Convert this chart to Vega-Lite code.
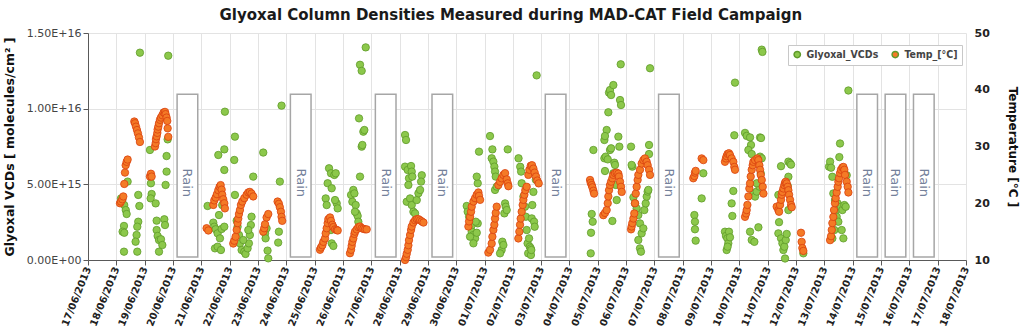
{
"$schema":"https://vega.github.io/schema/vega-lite/v6.json",
"autosize":"none",
"width":878,"height":227,
"padding":{"left":88,"top":33,"right":58,"bottom":69},
"background":"white",
"title":{"text":"Glyoxal Column Densities Measured during MAD-CAT Field Campaign","fontSize":15,"font":"DejaVu Sans","fontWeight":"bold","color":"#1a1a1a","offset":4,"frame":"bounds"},
"config":{"font":"DejaVu Sans","view":{"stroke":null}},
"datasets":{
"rain":[
{"s":"2013-06-20T03:30","e":"2013-06-20T21:00","m":"2013-06-20T12:15","label":"Rain"},
{"s":"2013-06-24T03:30","e":"2013-06-24T21:00","m":"2013-06-24T12:15","label":"Rain"},
{"s":"2013-06-27T03:30","e":"2013-06-27T21:00","m":"2013-06-27T12:15","label":"Rain"},
{"s":"2013-06-29T03:30","e":"2013-06-29T21:00","m":"2013-06-29T12:15","label":"Rain"},
{"s":"2013-07-03T03:30","e":"2013-07-03T21:00","m":"2013-07-03T12:15","label":"Rain"},
{"s":"2013-07-07T03:30","e":"2013-07-07T21:00","m":"2013-07-07T12:15","label":"Rain"},
{"s":"2013-07-14T03:30","e":"2013-07-14T21:00","m":"2013-07-14T12:15","label":"Rain"},
{"s":"2013-07-15T03:30","e":"2013-07-15T21:00","m":"2013-07-15T12:15","label":"Rain"},
{"s":"2013-07-16T03:30","e":"2013-07-16T21:00","m":"2013-07-16T12:15","label":"Rain"}
],
"vcd":[
{"t":"2013-06-18T04:00","v":4.07e15},{"t":"2013-06-18T05:00","v":3.96e15},{"t":"2013-06-18T06:40","v":3.63e15},{"t":"2013-06-18T08:00","v":3.30e15},{"t":"2013-06-18T08:45","v":3.04e15},{"t":"2013-06-18T06:30","v":2.25e15},{"t":"2013-06-18T05:20","v":1.87e15},{"t":"2013-06-18T06:45","v":1.80e15},{"t":"2013-06-18T06:30","v":0.55e15},{"t":"2013-06-18T09:35","v":5.18e15},{"t":"2013-06-18T18:35","v":4.30e15},{"t":"2013-06-18T19:30","v":3.57e15},{"t":"2013-06-18T18:35","v":2.53e15},{"t":"2013-06-18T17:45","v":2.20e15},{"t":"2013-06-18T17:10","v":1.65e15},{"t":"2013-06-18T16:20","v":1.21e15},{"t":"2013-06-18T17:45","v":0.55e15},{"t":"2013-06-18T20:00","v":13.7e15},
{"t":"2013-06-19T04:30","v":7.27e15},{"t":"2013-06-19T05:20","v":5.07e15},{"t":"2013-06-19T05:55","v":4.36e15},{"t":"2013-06-19T05:05","v":4.07e15},{"t":"2013-06-19T09:20","v":3.74e15},{"t":"2013-06-19T10:10","v":2.60e15},{"t":"2013-06-19T10:10","v":1.98e15},{"t":"2013-06-19T11:00","v":1.59e15},{"t":"2013-06-19T12:10","v":1.32e15},{"t":"2013-06-19T13:50","v":1.37e15},{"t":"2013-06-19T15:00","v":0.99e15},{"t":"2013-06-19T12:10","v":0.55e15},{"t":"2013-06-19T16:40","v":2.69e15},{"t":"2013-06-19T17:15","v":2.31e15},{"t":"2013-06-19T17:45","v":4.96e15},{"t":"2013-06-19T18:35","v":6.87e15},{"t":"2013-06-19T18:35","v":5.84e15},{"t":"2013-06-19T19:30","v":7.97e15},{"t":"2013-06-19T20:00","v":13.5e15},
{"t":"2013-06-21T05:20","v":3.57e15},{"t":"2013-06-21T10:10","v":2.47e15},{"t":"2013-06-21T11:00","v":2.20e15},{"t":"2013-06-21T12:10","v":2.03e15},{"t":"2013-06-21T13:50","v":1.76e15},{"t":"2013-06-21T15:50","v":1.43e15},{"t":"2013-06-21T17:15","v":2.05e15},{"t":"2013-06-21T11:35","v":0.77e15},{"t":"2013-06-21T13:50","v":0.88e15},{"t":"2013-06-21T16:40","v":0.66e15},{"t":"2013-06-21T15:00","v":2.97e15},{"t":"2013-06-21T17:45","v":3.63e15},{"t":"2013-06-21T19:30","v":2.20e15},{"t":"2013-06-21T14:25","v":6.94e15},{"t":"2013-06-21T19:30","v":7.31e15},{"t":"2013-06-21T19:30","v":5.95e15},{"t":"2013-06-21T20:00","v":9.80e15},
{"t":"2013-06-22T04:30","v":8.15e15},{"t":"2013-06-22T03:55","v":6.61e15},{"t":"2013-06-22T04:30","v":4.30e15},{"t":"2013-06-22T06:00","v":2.60e15},{"t":"2013-06-22T06:45","v":2.20e15},{"t":"2013-06-22T07:55","v":1.65e15},{"t":"2013-06-22T08:45","v":1.10e15},{"t":"2013-06-22T10:10","v":0.66e15},{"t":"2013-06-22T12:25","v":0.55e15},{"t":"2013-06-22T13:30","v":0.40e15},{"t":"2013-06-22T15:15","v":0.77e15},{"t":"2013-06-22T16:20","v":1.10e15},{"t":"2013-06-22T17:10","v":1.65e15},{"t":"2013-06-22T18:00","v":2.31e15},{"t":"2013-06-22T18:35","v":2.86e15},{"t":"2013-06-22T20:00","v":5.51e15},{"t":"2013-06-22T11:35","v":1.32e15},{"t":"2013-06-22T15:50","v":1.98e15},
{"t":"2013-06-23T04:30","v":7.10e15},{"t":"2013-06-23T06:00","v":1.76e15},{"t":"2013-06-23T06:30","v":1.43e15},{"t":"2013-06-23T07:20","v":2.09e15},{"t":"2013-06-23T08:10","v":0.62e15},{"t":"2013-06-23T08:45","v":0.11e15},{"t":"2013-06-23T18:35","v":5.18e15},{"t":"2013-06-23T17:45","v":1.87e15},{"t":"2013-06-23T17:10","v":1.15e15},{"t":"2013-06-23T20:00","v":10.2e15},
{"t":"2013-06-25T09:25","v":4.07e15},{"t":"2013-06-25T10:15","v":3.63e15},{"t":"2013-06-25T11:05","v":5.07e15},{"t":"2013-06-25T12:15","v":6.06e15},{"t":"2013-06-25T13:55","v":5.73e15},{"t":"2013-06-25T14:30","v":4.74e15},{"t":"2013-06-25T16:45","v":5.62e15},{"t":"2013-06-25T17:55","v":5.73e15},{"t":"2013-06-25T18:45","v":3.74e15},{"t":"2013-06-25T19:35","v":3.41e15},{"t":"2013-06-25T17:20","v":3.96e15},{"t":"2013-06-25T13:55","v":1.98e15},{"t":"2013-06-25T14:30","v":1.10e15},{"t":"2013-06-25T15:55","v":0.93e15},
{"t":"2013-06-26T06:55","v":4.30e15},{"t":"2013-06-26T08:00","v":3.85e15},{"t":"2013-06-26T08:50","v":4.63e15},{"t":"2013-06-26T09:45","v":4.40e15},{"t":"2013-06-26T10:50","v":3.63e15},{"t":"2013-06-26T11:40","v":3.08e15},{"t":"2013-06-26T12:30","v":2.91e15},{"t":"2013-06-26T13:05","v":2.53e15},{"t":"2013-06-26T14:30","v":5.51e15},{"t":"2013-06-26T15:55","v":7.49e15},{"t":"2013-06-26T16:30","v":7.60e15},{"t":"2013-06-26T17:20","v":8.48e15},{"t":"2013-06-26T18:10","v":8.59e15},{"t":"2013-06-26T13:40","v":9.36e15},{"t":"2013-06-26T14:30","v":12.9e15},{"t":"2013-06-26T15:55","v":12.5e15},{"t":"2013-06-26T19:20","v":14.05e15},{"t":"2013-06-26T10:15","v":3.19e15},
{"t":"2013-06-28T04:40","v":8.26e15},{"t":"2013-06-28T05:30","v":7.93e15},{"t":"2013-06-28T04:40","v":6.17e15},{"t":"2013-06-28T06:55","v":5.95e15},{"t":"2013-06-28T08:00","v":5.40e15},{"t":"2013-06-28T09:45","v":6.21e15},{"t":"2013-06-28T10:20","v":5.84e15},{"t":"2013-06-28T10:50","v":5.51e15},{"t":"2013-06-28T07:30","v":4.96e15},{"t":"2013-06-28T06:05","v":3.85e15},{"t":"2013-06-28T08:55","v":4.07e15},{"t":"2013-06-28T10:20","v":3.63e15},{"t":"2013-06-28T11:45","v":3.19e15},{"t":"2013-06-28T14:35","v":3.96e15},{"t":"2013-06-28T16:00","v":4.41e15},{"t":"2013-06-28T17:25","v":4.63e15},{"t":"2013-06-28T18:50","v":5.60e15},{"t":"2013-06-28T18:15","v":5.18e15},{"t":"2013-06-28T13:10","v":3.08e15},
{"t":"2013-06-30T08:55","v":3.57e15},{"t":"2013-06-30T09:45","v":3.19e15},{"t":"2013-06-30T10:55","v":2.86e15},{"t":"2013-06-30T11:45","v":2.53e15},{"t":"2013-06-30T12:35","v":2.20e15},{"t":"2013-06-30T13:10","v":1.87e15},{"t":"2013-06-30T14:35","v":1.65e15},{"t":"2013-06-30T16:00","v":1.43e15},{"t":"2013-06-30T17:25","v":1.80e15},{"t":"2013-06-30T18:15","v":2.42e15},{"t":"2013-06-30T16:35","v":2.53e15},{"t":"2013-06-30T18:15","v":5.07e15},{"t":"2013-06-30T19:20","v":7.16e15},{"t":"2013-06-30T17:25","v":5.51e15},{"t":"2013-06-30T14:35","v":1.10e15},{"t":"2013-06-30T11:45","v":1.54e15},
{"t":"2013-07-01T04:40","v":8.19e15},{"t":"2013-07-01T06:40","v":7.31e15},{"t":"2013-07-01T06:05","v":6.72e15},{"t":"2013-07-01T07:30","v":6.50e15},{"t":"2013-07-01T08:20","v":6.17e15},{"t":"2013-07-01T08:55","v":5.84e15},{"t":"2013-07-01T09:30","v":5.51e15},{"t":"2013-07-01T08:55","v":4.63e15},{"t":"2013-07-01T10:20","v":4.85e15},{"t":"2013-07-01T17:25","v":3.74e15},{"t":"2013-07-01T18:00","v":3.52e15},{"t":"2013-07-01T16:50","v":3.08e15},{"t":"2013-07-01T18:50","v":3.30e15},{"t":"2013-07-01T15:05","v":1.21e15},{"t":"2013-07-01T14:30","v":0.66e15},{"t":"2013-07-01T13:10","v":0.44e15},{"t":"2013-07-01T16:00","v":0.99e15},{"t":"2013-07-01T19:40","v":7.31e15},
{"t":"2013-07-02T04:50","v":6.72e15},{"t":"2013-07-02T06:15","v":6.16e15},{"t":"2013-07-02T07:00","v":5.84e15},{"t":"2013-07-02T07:30","v":5.07e15},{"t":"2013-07-02T09:00","v":4.20e15},{"t":"2013-07-02T10:20","v":3.52e15},{"t":"2013-07-02T11:00","v":2.86e15},{"t":"2013-07-02T11:45","v":1.98e15},{"t":"2013-07-02T12:30","v":1.10e15},{"t":"2013-07-02T13:00","v":0.44e15},{"t":"2013-07-02T13:45","v":1.43e15},{"t":"2013-07-02T14:20","v":0.88e15},{"t":"2013-07-02T15:10","v":0.77e15},{"t":"2013-07-02T15:20","v":0.33e15},{"t":"2013-07-02T15:40","v":0.66e15},{"t":"2013-07-02T16:00","v":2.75e15},{"t":"2013-07-02T16:30","v":3.63e15},{"t":"2013-07-02T17:25","v":4.50e15},{"t":"2013-07-02T18:00","v":2.53e15},{"t":"2013-07-02T18:30","v":2.20e15},{"t":"2013-07-02T19:30","v":5.30e15},{"t":"2013-07-02T20:10","v":12.2e15},
{"t":"2013-07-04T18:50","v":3.04e15},{"t":"2013-07-04T19:40","v":2.53e15},{"t":"2013-07-04T18:15","v":1.80e15},{"t":"2013-07-04T18:00","v":0.44e15},{"t":"2013-07-04T20:15","v":7.27e15},
{"t":"2013-07-05T05:35","v":6.72e15},{"t":"2013-07-05T06:40","v":6.83e15},{"t":"2013-07-05T08:25","v":6.65e15},{"t":"2013-07-05T06:05","v":5.88e15},{"t":"2013-07-05T07:30","v":8.59e15},{"t":"2013-07-05T05:35","v":7.93e15},{"t":"2013-07-05T06:05","v":8.19e15},{"t":"2013-07-05T08:55","v":9.76e15},{"t":"2013-07-05T09:30","v":11.06e15},{"t":"2013-07-05T10:20","v":11.23e15},{"t":"2013-07-05T11:15","v":10.9e15},{"t":"2013-07-05T13:10","v":11.56e15},{"t":"2013-07-05T14:00","v":6.43e15},{"t":"2013-07-05T14:35","v":6.28e15},{"t":"2013-07-05T13:10","v":5.73e15},{"t":"2013-07-05T15:10","v":4.96e15},{"t":"2013-07-05T16:00","v":3.96e15},{"t":"2013-07-05T12:20","v":2.58e15},{"t":"2013-07-05T17:25","v":8.15e15},{"t":"2013-07-05T18:50","v":10.57e15},{"t":"2013-07-05T19:40","v":10.24e15},{"t":"2013-07-05T18:15","v":7.49e15},{"t":"2013-07-05T19:25","v":12.93e15},{"t":"2013-07-05T10:20","v":7.27e15},{"t":"2013-07-05T11:15","v":7.38e15},
{"t":"2013-07-06T04:10","v":7.49e15},{"t":"2013-07-06T05:15","v":6.17e15},{"t":"2013-07-06T06:10","v":4.14e15},{"t":"2013-07-06T07:30","v":3.74e15},{"t":"2013-07-06T08:55","v":3.41e15},{"t":"2013-07-06T10:20","v":2.97e15},{"t":"2013-07-06T11:45","v":2.42e15},{"t":"2013-07-06T10:20","v":1.32e15},{"t":"2013-07-06T11:45","v":0.77e15},{"t":"2013-07-06T12:35","v":0.55e15},{"t":"2013-07-06T13:10","v":1.76e15},{"t":"2013-07-06T14:35","v":2.09e15},{"t":"2013-07-06T15:25","v":3.30e15},{"t":"2013-07-06T16:35","v":3.74e15},{"t":"2013-07-06T17:25","v":4.19e15},{"t":"2013-07-06T18:15","v":4.52e15},{"t":"2013-07-06T18:50","v":4.63e15},{"t":"2013-07-06T19:25","v":7.00e15},{"t":"2013-07-06T19:25","v":7.60e15},{"t":"2013-07-06T20:15","v":12.67e15},{"t":"2013-07-06T04:40","v":6.28e15},
{"t":"2013-07-08T09:50","v":2.97e15},{"t":"2013-07-08T10:20","v":2.53e15},{"t":"2013-07-08T10:20","v":2.03e15},{"t":"2013-07-08T10:55","v":1.28e15},{"t":"2013-07-08T17:25","v":5.73e15},{"t":"2013-07-08T16:00","v":4.07e15},
{"t":"2013-07-09T11:45","v":1.87e15},{"t":"2013-07-09T12:35","v":1.59e15},{"t":"2013-07-09T13:45","v":1.43e15},{"t":"2013-07-09T14:35","v":1.10e15},{"t":"2013-07-09T13:10","v":0.66e15},{"t":"2013-07-09T14:00","v":0.88e15},{"t":"2013-07-09T15:10","v":1.87e15},{"t":"2013-07-09T16:00","v":1.50e15},{"t":"2013-07-09T17:25","v":3.74e15},{"t":"2013-07-09T18:00","v":2.91e15},{"t":"2013-07-09T18:50","v":4.56e15},{"t":"2013-07-09T19:40","v":8.24e15},{"t":"2013-07-09T20:15","v":11.72e15},
{"t":"2013-07-10T04:45","v":8.40e15},{"t":"2013-07-10T06:10","v":8.20e15},{"t":"2013-07-10T09:00","v":8.10e15},{"t":"2013-07-10T09:50","v":7.60e15},{"t":"2013-07-10T07:35","v":7.27e15},{"t":"2013-07-10T10:25","v":7.00e15},{"t":"2013-07-10T17:30","v":8.10e15},{"t":"2013-07-10T18:20","v":8.06e15},{"t":"2013-07-10T17:30","v":6.83e15},{"t":"2013-07-10T18:55","v":6.72e15},{"t":"2013-07-10T18:55","v":13.9e15},{"t":"2013-07-10T19:30","v":13.75e15},{"t":"2013-07-10T09:00","v":1.87e15},{"t":"2013-07-10T10:25","v":1.32e15},{"t":"2013-07-10T12:40","v":1.20e15},{"t":"2013-07-10T16:05","v":2.16e15},{"t":"2013-07-10T11:50","v":4.40e15},{"t":"2013-07-10T13:15","v":4.19e15},{"t":"2013-07-10T14:40","v":4.52e15},{"t":"2013-07-10T16:55","v":4.85e15},{"t":"2013-07-10T18:05","v":5.73e15},{"t":"2013-07-10T14:40","v":5.07e15},
{"t":"2013-07-11T11:15","v":6.20e15},{"t":"2013-07-11T17:30","v":6.50e15},{"t":"2013-07-11T18:55","v":6.40e15},{"t":"2013-07-11T19:45","v":6.30e15},{"t":"2013-07-11T17:30","v":5.50e15},{"t":"2013-07-11T16:55","v":4.90e15},{"t":"2013-07-11T09:00","v":4.30e15},{"t":"2013-07-11T09:35","v":2.50e15},{"t":"2013-07-11T09:00","v":1.76e15},{"t":"2013-07-11T11:15","v":1.43e15},{"t":"2013-07-11T12:25","v":1.10e15},{"t":"2013-07-11T13:15","v":0.66e15},{"t":"2013-07-11T14:40","v":0.10e15},{"t":"2013-07-11T14:05","v":0.88e15},{"t":"2013-07-11T15:15","v":1.32e15},{"t":"2013-07-11T16:05","v":1.72e15},{"t":"2013-07-11T17:30","v":3.30e15},
{"t":"2013-07-12T06:10","v":0.44e15},
{"t":"2013-07-13T03:55","v":6.17e15},{"t":"2013-07-13T04:50","v":6.50e15},{"t":"2013-07-13T05:40","v":6.10e15},{"t":"2013-07-13T06:45","v":5.50e15},{"t":"2013-07-13T13:15","v":7.70e15},{"t":"2013-07-13T12:40","v":6.80e15},{"t":"2013-07-13T07:35","v":4.40e15},{"t":"2013-07-13T09:00","v":3.96e15},{"t":"2013-07-13T11:15","v":3.74e15},{"t":"2013-07-13T14:05","v":3.52e15},{"t":"2013-07-13T15:15","v":3.30e15},{"t":"2013-07-13T16:55","v":3.63e15},{"t":"2013-07-13T18:05","v":3.52e15},{"t":"2013-07-13T18:55","v":5.60e15},{"t":"2013-07-13T09:00","v":3.19e15},{"t":"2013-07-13T10:25","v":2.86e15},{"t":"2013-07-13T11:50","v":2.53e15},{"t":"2013-07-13T08:25","v":1.98e15},{"t":"2013-07-13T14:40","v":1.98e15},{"t":"2013-07-13T16:05","v":1.43e15},{"t":"2013-07-13T20:20","v":11.2e15},{"t":"2013-07-13T06:45","v":1.43e15}
],
"temp":[
{"t":"2013-06-18T03:05","c":20.0},{"t":"2013-06-18T03:55","c":20.3},{"t":"2013-06-18T05:05","c":20.7},{"t":"2013-06-18T05:55","c":21.2},{"t":"2013-06-18T06:45","c":23.4},{"t":"2013-06-18T07:20","c":25.4},{"t":"2013-06-18T07:55","c":26.7},{"t":"2013-06-18T08:45","c":27.3},{"t":"2013-06-18T09:35","c":27.7},{"t":"2013-06-18T15:15","c":34.4},{"t":"2013-06-18T15:50","c":34.1},{"t":"2013-06-18T16:40","c":33.5},{"t":"2013-06-18T17:30","c":32.9},{"t":"2013-06-18T18:20","c":32.3},{"t":"2013-06-18T19:10","c":31.6},{"t":"2013-06-18T20:00","c":30.8},
{"t":"2013-06-19T04:30","c":24.7},{"t":"2013-06-19T05:20","c":25.2},{"t":"2013-06-19T05:55","c":24.7},{"t":"2013-06-19T08:45","c":30.0},{"t":"2013-06-19T09:20","c":30.6},{"t":"2013-06-19T09:35","c":31.3},{"t":"2013-06-19T10:10","c":31.8},{"t":"2013-06-19T10:45","c":32.4},{"t":"2013-06-19T11:00","c":33.0},{"t":"2013-06-19T11:35","c":33.5},{"t":"2013-06-19T12:10","c":34.1},{"t":"2013-06-19T13:00","c":34.7},{"t":"2013-06-19T13:50","c":35.1},{"t":"2013-06-19T15:00","c":35.5},{"t":"2013-06-19T16:05","c":36.0},{"t":"2013-06-19T17:15","c":36.1},{"t":"2013-06-19T17:45","c":35.7},{"t":"2013-06-19T18:35","c":35.1},{"t":"2013-06-19T19:10","c":34.5},{"t":"2013-06-19T19:30","c":33.2},{"t":"2013-06-19T20:00","c":31.7},
{"t":"2013-06-21T04:30","c":15.6},{"t":"2013-06-21T06:00","c":15.2},{"t":"2013-06-21T10:10","c":19.7},{"t":"2013-06-21T11:00","c":20.5},{"t":"2013-06-21T12:10","c":21.0},{"t":"2013-06-21T13:15","c":21.6},{"t":"2013-06-21T14:25","c":22.3},{"t":"2013-06-21T15:30","c":22.9},{"t":"2013-06-21T16:25","c":23.2},{"t":"2013-06-21T17:15","c":22.4},{"t":"2013-06-21T17:45","c":21.5},{"t":"2013-06-21T18:35","c":20.7},{"t":"2013-06-21T19:30","c":20.0},{"t":"2013-06-21T20:00","c":19.1},
{"t":"2013-06-22T03:05","c":12.9},{"t":"2013-06-22T03:55","c":13.4},{"t":"2013-06-22T05:05","c":14.1},{"t":"2013-06-22T06:00","c":15.3},{"t":"2013-06-22T06:45","c":16.5},{"t":"2013-06-22T07:20","c":17.3},{"t":"2013-06-22T07:55","c":18.1},{"t":"2013-06-22T08:45","c":18.8},{"t":"2013-06-22T09:35","c":19.7},{"t":"2013-06-22T10:45","c":20.3},{"t":"2013-06-22T12:25","c":20.9},{"t":"2013-06-22T14:25","c":21.5},{"t":"2013-06-22T15:50","c":21.9},{"t":"2013-06-22T17:10","c":22.0},{"t":"2013-06-22T18:35","c":21.7},{"t":"2013-06-22T20:00","c":21.2},
{"t":"2013-06-23T04:30","c":15.0},{"t":"2013-06-23T05:20","c":15.6},{"t":"2013-06-23T06:00","c":16.3},{"t":"2013-06-23T07:20","c":17.5},{"t":"2013-06-23T08:45","c":18.1},{"t":"2013-06-23T16:40","c":20.3},{"t":"2013-06-23T17:45","c":19.9},{"t":"2013-06-23T18:35","c":19.3},{"t":"2013-06-23T19:30","c":18.5},{"t":"2013-06-23T20:00","c":17.6},{"t":"2013-06-23T20:35","c":16.9},
{"t":"2013-06-25T04:35","c":11.8},{"t":"2013-06-25T05:25","c":12.2},{"t":"2013-06-25T06:35","c":12.6},{"t":"2013-06-25T07:25","c":13.2},{"t":"2013-06-25T08:50","c":13.8},{"t":"2013-06-25T09:25","c":14.7},{"t":"2013-06-25T10:15","c":15.6},{"t":"2013-06-25T11:05","c":16.5},{"t":"2013-06-25T11:40","c":17.2},{"t":"2013-06-25T13:05","c":17.5},{"t":"2013-06-25T13:55","c":16.9},{"t":"2013-06-25T15:05","c":16.2},{"t":"2013-06-25T15:55","c":15.8},{"t":"2013-06-25T17:20","c":15.4},{"t":"2013-06-25T18:45","c":15.3},{"t":"2013-06-25T19:35","c":15.2},
{"t":"2013-06-26T06:00","c":11.2},{"t":"2013-06-26T06:55","c":11.8},{"t":"2013-06-26T07:25","c":12.5},{"t":"2013-06-26T08:00","c":13.2},{"t":"2013-06-26T08:50","c":13.8},{"t":"2013-06-26T09:45","c":14.6},{"t":"2013-06-26T10:15","c":15.0},{"t":"2013-06-26T11:40","c":15.4},{"t":"2013-06-26T13:05","c":15.8},{"t":"2013-06-26T14:30","c":15.9},{"t":"2013-06-26T15:55","c":15.6},{"t":"2013-06-26T17:20","c":15.5},{"t":"2013-06-26T18:45","c":15.4},{"t":"2013-06-26T20:10","c":15.4},
{"t":"2013-06-28T04:40","c":10.0},{"t":"2013-06-28T05:30","c":10.5},{"t":"2013-06-28T06:05","c":11.1},{"t":"2013-06-28T06:55","c":11.8},{"t":"2013-06-28T07:30","c":12.6},{"t":"2013-06-28T08:00","c":13.5},{"t":"2013-06-28T08:55","c":14.4},{"t":"2013-06-28T09:45","c":15.3},{"t":"2013-06-28T10:20","c":15.9},{"t":"2013-06-28T11:45","c":16.6},{"t":"2013-06-28T13:10","c":17.0},{"t":"2013-06-28T14:35","c":17.2},{"t":"2013-06-28T16:00","c":17.2},{"t":"2013-06-28T17:25","c":17.0},{"t":"2013-06-28T18:50","c":16.8},{"t":"2013-06-28T20:15","c":16.6},
{"t":"2013-06-30T10:20","c":15.9},{"t":"2013-06-30T10:55","c":16.8},{"t":"2013-06-30T11:45","c":17.6},{"t":"2013-06-30T12:35","c":18.5},{"t":"2013-06-30T13:10","c":19.4},{"t":"2013-06-30T14:35","c":20.3},{"t":"2013-06-30T16:00","c":20.9},{"t":"2013-06-30T17:25","c":21.5},{"t":"2013-06-30T18:50","c":21.9},{"t":"2013-06-30T19:20","c":21.3},{"t":"2013-06-30T20:15","c":20.6},
{"t":"2013-07-01T03:15","c":11.3},{"t":"2013-07-01T04:40","c":11.8},{"t":"2013-07-01T06:05","c":12.9},{"t":"2013-07-01T06:40","c":14.1},{"t":"2013-07-01T07:30","c":15.3},{"t":"2013-07-01T08:20","c":16.2},{"t":"2013-07-01T08:55","c":17.3},{"t":"2013-07-01T09:30","c":18.3},{"t":"2013-07-01T10:20","c":19.4},{"t":"2013-07-01T11:45","c":23.2},{"t":"2013-07-01T13:10","c":23.8},{"t":"2013-07-01T14:30","c":24.4},{"t":"2013-07-01T16:00","c":25.0},{"t":"2013-07-01T17:25","c":25.3},{"t":"2013-07-01T18:50","c":24.2},{"t":"2013-07-01T19:40","c":23.5},{"t":"2013-07-01T20:15","c":23.0},
{"t":"2013-07-02T04:40","c":13.8},{"t":"2013-07-02T05:30","c":15.0},{"t":"2013-07-02T06:05","c":16.2},{"t":"2013-07-02T06:40","c":17.3},{"t":"2013-07-02T07:30","c":18.5},{"t":"2013-07-02T08:20","c":19.7},{"t":"2013-07-02T08:55","c":20.6},{"t":"2013-07-02T09:45","c":21.5},{"t":"2013-07-02T10:35","c":22.3},{"t":"2013-07-02T11:45","c":22.9},{"t":"2013-07-02T13:10","c":25.0},{"t":"2013-07-02T14:00","c":25.9},{"t":"2013-07-02T15:10","c":26.6},{"t":"2013-07-02T16:15","c":26.7},{"t":"2013-07-02T17:25","c":26.1},{"t":"2013-07-02T18:30","c":25.4},{"t":"2013-07-02T19:40","c":24.7},{"t":"2013-07-02T20:45","c":24.0},{"t":"2013-07-02T21:55","c":23.5},
{"t":"2013-07-04T17:25","c":24.1},{"t":"2013-07-04T18:00","c":23.6},{"t":"2013-07-04T18:50","c":23.2},{"t":"2013-07-04T19:25","c":22.8},{"t":"2013-07-04T20:15","c":22.2},{"t":"2013-07-04T20:50","c":21.7},
{"t":"2013-07-05T04:40","c":17.9},{"t":"2013-07-05T06:05","c":18.3},{"t":"2013-07-05T07:30","c":18.8},{"t":"2013-07-05T08:25","c":20.0},{"t":"2013-07-05T08:55","c":21.2},{"t":"2013-07-05T09:30","c":22.3},{"t":"2013-07-05T10:20","c":23.2},{"t":"2013-07-05T11:15","c":23.8},{"t":"2013-07-05T12:20","c":24.4},{"t":"2013-07-05T13:10","c":25.0},{"t":"2013-07-05T14:35","c":25.3},{"t":"2013-07-05T16:00","c":25.4},{"t":"2013-07-05T17:25","c":25.2},{"t":"2013-07-05T17:55","c":24.7},{"t":"2013-07-05T18:50","c":23.8},{"t":"2013-07-05T19:40","c":22.9},{"t":"2013-07-05T20:15","c":22.0},
{"t":"2013-07-06T04:10","c":15.4},{"t":"2013-07-06T04:40","c":15.9},{"t":"2013-07-06T05:15","c":16.5},{"t":"2013-07-06T06:10","c":17.3},{"t":"2013-07-06T06:55","c":18.2},{"t":"2013-07-06T07:30","c":20.0},{"t":"2013-07-06T08:10","c":21.7},{"t":"2013-07-06T08:55","c":22.9},{"t":"2013-07-06T09:45","c":24.1},{"t":"2013-07-06T10:20","c":25.0},{"t":"2013-07-06T11:45","c":25.9},{"t":"2013-07-06T13:10","c":27.0},{"t":"2013-07-06T14:35","c":27.6},{"t":"2013-07-06T15:55","c":27.9},{"t":"2013-07-06T17:25","c":27.3},{"t":"2013-07-06T18:15","c":26.7},{"t":"2013-07-06T19:25","c":25.9},{"t":"2013-07-06T20:15","c":25.0},
{"t":"2013-07-08T08:55","c":24.4},{"t":"2013-07-08T09:50","c":24.8},{"t":"2013-07-08T10:20","c":25.4},{"t":"2013-07-08T10:55","c":25.7},{"t":"2013-07-08T16:00","c":27.9},{"t":"2013-07-08T17:25","c":27.6},
{"t":"2013-07-09T11:45","c":27.3},{"t":"2013-07-09T12:35","c":27.9},{"t":"2013-07-09T13:10","c":28.3},{"t":"2013-07-09T14:00","c":28.7},{"t":"2013-07-09T15:10","c":28.8},{"t":"2013-07-09T16:00","c":28.5},{"t":"2013-07-09T17:25","c":27.9},{"t":"2013-07-09T18:50","c":27.3},{"t":"2013-07-09T19:40","c":26.4},{"t":"2013-07-09T20:15","c":25.9},
{"t":"2013-07-10T04:45","c":17.6},{"t":"2013-07-10T05:40","c":18.2},{"t":"2013-07-10T06:10","c":18.8},{"t":"2013-07-10T06:45","c":19.7},{"t":"2013-07-10T07:35","c":21.2},{"t":"2013-07-10T08:25","c":22.6},{"t":"2013-07-10T09:00","c":23.5},{"t":"2013-07-10T09:35","c":24.7},{"t":"2013-07-10T10:25","c":25.9},{"t":"2013-07-10T11:15","c":26.7},{"t":"2013-07-10T11:50","c":27.3},{"t":"2013-07-10T13:15","c":27.6},{"t":"2013-07-10T15:15","c":27.9},{"t":"2013-07-10T16:05","c":27.6},{"t":"2013-07-10T16:55","c":26.7},{"t":"2013-07-10T17:30","c":25.9},{"t":"2013-07-10T18:05","c":25.0},{"t":"2013-07-10T18:55","c":24.1},{"t":"2013-07-10T19:45","c":22.9},{"t":"2013-07-10T20:20","c":21.7},
{"t":"2013-07-11T07:35","c":19.4},{"t":"2013-07-11T09:00","c":18.8},{"t":"2013-07-11T09:35","c":18.5},{"t":"2013-07-11T10:25","c":19.7},{"t":"2013-07-11T11:15","c":20.6},{"t":"2013-07-11T11:50","c":21.5},{"t":"2013-07-11T12:25","c":22.0},{"t":"2013-07-11T13:15","c":22.6},{"t":"2013-07-11T14:05","c":23.2},{"t":"2013-07-11T14:40","c":23.6},{"t":"2013-07-11T15:15","c":23.8},{"t":"2013-07-11T16:05","c":23.5},{"t":"2013-07-11T16:55","c":22.9},{"t":"2013-07-11T17:30","c":22.3},{"t":"2013-07-11T18:05","c":21.5},{"t":"2013-07-11T18:55","c":20.6},{"t":"2013-07-11T19:45","c":19.7},{"t":"2013-07-11T20:20","c":19.3},
{"t":"2013-07-12T04:10","c":14.8},{"t":"2013-07-12T04:45","c":13.2},{"t":"2013-07-12T05:20","c":12.1},{"t":"2013-07-12T06:10","c":11.6},
{"t":"2013-07-13T04:50","c":13.5},{"t":"2013-07-13T05:40","c":14.2},{"t":"2013-07-13T06:15","c":15.3},{"t":"2013-07-13T06:45","c":16.5},{"t":"2013-07-13T07:35","c":17.6},{"t":"2013-07-13T08:10","c":18.8},{"t":"2013-07-13T09:00","c":20.0},{"t":"2013-07-13T09:35","c":20.9},{"t":"2013-07-13T10:25","c":21.9},{"t":"2013-07-13T11:15","c":22.9},{"t":"2013-07-13T11:50","c":23.8},{"t":"2013-07-13T12:25","c":24.4},{"t":"2013-07-13T13:15","c":25.3},{"t":"2013-07-13T14:05","c":25.9},{"t":"2013-07-13T15:15","c":26.3},{"t":"2013-07-13T16:05","c":26.4},{"t":"2013-07-13T16:55","c":25.9},{"t":"2013-07-13T17:30","c":25.0},{"t":"2013-07-13T18:55","c":23.8},{"t":"2013-07-13T19:45","c":22.9},{"t":"2013-07-13T20:20","c":21.9}
]
},
"layer":[
{
"layer":[
{"data":{"name":"rain"},
 "mark":{"type":"rect","fill":"white","stroke":"#a6a6a6","strokeWidth":1.5},
 "encoding":{
  "x":{"field":"s","type":"temporal","scale":{"domain":[{"year":2013,"month":6,"date":17},{"year":2013,"month":7,"date":18}],"nice":false},
       "axis":{"format":"%d/%m/%Y","labelAngle":-68,"labelFontSize":10,"labelFontWeight":"bold","labelColor":"#222222","tickCount":{"interval":"day","step":1},"grid":true,"gridColor":"#e3e3e3","domainColor":"#595959","tickColor":"#595959","tickSize":5,"title":null,"labelPadding":2,"labelOverlap":false,"labelFlush":false}},
  "x2":{"field":"e"},
  "y":{"datum":1.095e16,"type":"quantitative"},
  "y2":{"datum":2e14}
 }},
{"data":{"name":"rain"},
 "mark":{"type":"text","angle":90,"fontSize":13,"font":"DejaVu Sans","color":"#74819a","align":"center","baseline":"middle"},
 "encoding":{
  "x":{"field":"m","type":"temporal"},
  "y":{"datum":5.1e15,"type":"quantitative"},
  "text":{"field":"label"}
 }},
{"data":{"name":"vcd"},
 "mark":{"type":"point","filled":true,"size":55,"opacity":1,"stroke":"#5f9a2a","strokeWidth":0.8},
 "encoding":{
  "x":{"field":"t","type":"temporal"},
  "y":{"field":"v","type":"quantitative","scale":{"domain":[0,1.5e16],"nice":false,"zero":true},
       "axis":{"values":[0,5e15,1e16,1.5e16],"labelExpr":"datum.value == 0 ? '0.00E+00' : replace(format(datum.value, '.2e'), 'e', 'E')","title":"Glyoxal VCDs [ molecules/cm² ]","titleFontSize":12.5,"titleFontWeight":"bold","titleColor":"#111111","labelFontSize":11,"labelColor":"#444444","grid":true,"gridColor":"#e3e3e3","domainColor":"#595959","tickColor":"#595959","tickSize":5,"titlePadding":10}},
  "color":{"datum":"Glyoxal_VCDs","type":"nominal","scale":{"domain":["Glyoxal_VCDs","Temp_[°C]"],"range":["#8cc84b","#f47a26"]},
           "legend":{"orient":"none","legendX":700,"legendY":12,"direction":"horizontal","title":null,"strokeColor":"#c8c8c8","fillColor":"white","padding":4,"labelFont":"DejaVu Sans Condensed","labelFontSize":10.5,"labelFontWeight":"bold","labelColor":"#444444","symbolSize":40,"symbolType":"circle","columnPadding":10,"labelOffset":4}}
 }}
]
},
{"data":{"name":"temp"},
 "mark":{"type":"point","filled":true,"size":55,"opacity":1,"stroke":"#d9400f","strokeWidth":0.8},
 "encoding":{
  "x":{"field":"t","type":"temporal"},
  "y":{"field":"c","type":"quantitative","scale":{"domain":[10,50],"nice":false,"zero":false},
       "axis":{"orient":"right","values":[10,20,30,40,50],"title":"Temperature [°C ]","grid":false,"domain":false,"ticks":false,"labelPadding":8,"labelFontSize":11,"labelFontWeight":"bold","labelColor":"#222222","titleFontSize":12,"titleFontWeight":"bold","titleColor":"#111111","titlePadding":16}},
  "color":{"datum":"Temp_[°C]","type":"nominal"}
 }}
],
"resolve":{"scale":{"y":"independent"}}
}
